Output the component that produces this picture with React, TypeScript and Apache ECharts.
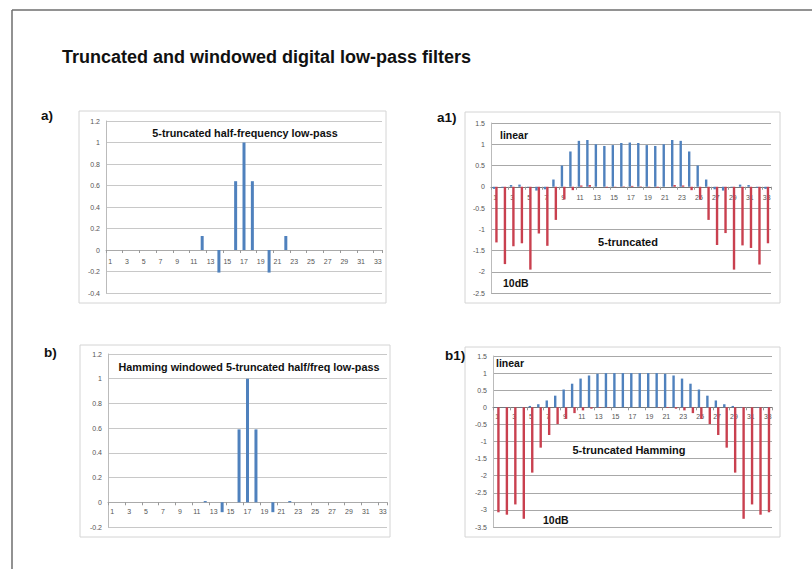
import React, { useEffect, useRef } from "react";
import * as echarts from "echarts";

const categories = ["1","2","3","4","5","6","7","8","9","10","11","12","13","14","15","16","17","18","19","20","21","22","23","24","25","26","27","28","29","30","31","32","33"];

// a) 5-truncated half-frequency low-pass (impulse response)
const aTruncated = [0,0,0,0,0,0,0,0,0,0,0,0.13,0,-0.21,0,0.64,1,0.64,0,-0.21,0,0.13,0,0,0,0,0,0,0,0,0,0,0];
// b) Hamming windowed 5-truncated half/freq low-pass
const bHamming = [0,0,0,0,0,0,0,0,0,0,0,0.01,0,-0.08,0,0.59,1,0.59,0,-0.08,0,0.01,0,0,0,0,0,0,0,0,0,0,0];
// a1) response of 5-truncated: linear and 10dB
const a1Linear = [-0.05,-0.02,0.04,0.05,-0.01,-0.09,-0.06,0.17,0.5,0.83,1.08,1.1,1.0,0.96,0.98,1.03,1.04,1.03,0.98,0.96,1.0,1.1,1.08,0.83,0.5,0.17,-0.06,-0.09,-0.01,0.05,0.04,-0.02,-0.05];
const a1Db = [-1.31,-1.82,-1.4,-1.33,-1.95,-1.1,-1.39,-0.78,-0.3,-0.08,0.03,0.04,0,-0.02,-0.01,0.01,0.02,0.01,-0.01,-0.02,0,0.04,0.03,-0.08,-0.3,-0.78,-1.37,-1.09,-1.95,-1.38,-1.44,-1.83,-1.33];
// b1) response of 5-truncated Hamming: linear and 10dB
const b1Linear = [-0.01,-0.01,0,0.01,0.04,0.09,0.2,0.34,0.52,0.69,0.84,0.93,0.98,1.0,1.0,1.0,1.0,1.0,1.0,1.0,0.98,0.93,0.84,0.69,0.52,0.34,0.2,0.09,0.04,0.01,0,-0.01,-0.01];
const b1Db = [-3.07,-3.14,-2.84,-3.26,-1.91,-1.18,-0.81,-0.49,-0.34,-0.17,-0.09,-0.04,-0.02,-0.01,0,0,0,0,0,-0.01,-0.02,-0.04,-0.09,-0.17,-0.34,-0.49,-0.81,-1.18,-1.91,-3.26,-2.84,-3.14,-3.07];

const BLUE = "#4F81BD";
const RED = "#C9404F";
const FONT = "'Liberation Sans', Arial, sans-serif";

type G = { left: number; top: number; width: number; height: number; min: number; max: number; interval: number };
const grids: G[] = [
  { left: 106, top: 121, width: 276, height: 172, min: -0.4, max: 1.2, interval: 0.2 },
  { left: 108, top: 354, width: 279, height: 173, min: -0.2, max: 1.2, interval: 0.2 },
  { left: 491, top: 123, width: 280, height: 170, min: -2.5, max: 1.5, interval: 0.5 },
  { left: 493, top: 356, width: 279, height: 171, min: -3.5, max: 1.5, interval: 0.5 },
];

function yAxisCfg(i: number, gridColor: string) {
  const g = grids[i];
  return {
    type: "value",
    gridIndex: i,
    min: g.min,
    max: g.max,
    interval: g.interval,
    axisLine: { show: true, lineStyle: { color: "#BBBBBB", width: 1 } },
    axisTick: { show: false },
    axisLabel: { fontSize: 7, color: "#555", margin: 6, fontFamily: FONT },
    splitLine: { show: true, lineStyle: { color: gridColor, width: 1 } },
  };
}

function xAxisCfg(i: number, lineColor: string, margin: number) {
  const g = grids[i];
  // distance from plot bottom to the zero line (axis crosses at 0)
  const zeroFromBottom = (g.height * (0 - g.min)) / (g.max - g.min);
  return {
    type: "category",
    gridIndex: i,
    data: categories,
    position: "bottom",
    offset: -zeroFromBottom,
    axisLine: { show: true, onZero: false, lineStyle: { color: lineColor, width: 1 } },
    axisTick: { show: true, length: 3, lineStyle: { color: "#999" } },
    axisLabel: { interval: 1, fontSize: 7, color: "#555", margin, fontFamily: FONT },
    splitLine: { show: false },
  };
}

function txt(x: number, y: number, text: string, size: number, align: string = "left") {
  return {
    type: "text",
    x,
    y,
    z: 100,
    style: {
      text,
      fontSize: size,
      fontWeight: "bold",
      fontFamily: FONT,
      fill: "#111",
      align,
      verticalAlign: "middle",
    },
  };
}

function box(x: number, y: number, w: number, h: number) {
  return {
    type: "rect",
    z: -1,
    shape: { x, y, width: w, height: h },
    style: { fill: "none", stroke: "#D4D4D4", lineWidth: 1 },
  };
}

export default function App() {
  const ref = useRef<HTMLDivElement>(null);
  useEffect(() => {
    if (!ref.current) return;
    const chart = echarts.init(ref.current, undefined, { renderer: "svg" });
    chart.setOption({
      animation: false,
      backgroundColor: "#FFFFFF",
      textStyle: { fontFamily: FONT },
      grid: grids.map((g) => ({ left: g.left, top: g.top, width: g.width, height: g.height, outerBoundsMode: "none" })),
      xAxis: [
        xAxisCfg(0, "#AAAAAA", 8),
        xAxisCfg(1, "#AAAAAA", 6),
        xAxisCfg(2, "#777777", 7),
        xAxisCfg(3, "#777777", 6),
      ],
      yAxis: [
        yAxisCfg(0, "#C8C8C8"),
        yAxisCfg(1, "#C8C8C8"),
        yAxisCfg(2, "#A8A8A8"),
        yAxisCfg(3, "#A8A8A8"),
      ],
      series: [
        { type: "bar", name: "a", xAxisIndex: 0, yAxisIndex: 0, data: aTruncated, barWidth: 3, itemStyle: { color: BLUE } },
        { type: "bar", name: "b", xAxisIndex: 1, yAxisIndex: 1, data: bHamming, barWidth: 3, itemStyle: { color: BLUE } },
        { type: "bar", name: "linear", xAxisIndex: 2, yAxisIndex: 2, data: a1Linear, barWidth: 2.4, barGap: "0%", itemStyle: { color: BLUE } },
        { type: "bar", name: "10dB", xAxisIndex: 2, yAxisIndex: 2, data: a1Db, barWidth: 2.4, barGap: "0%", itemStyle: { color: RED } },
        { type: "bar", name: "linear", xAxisIndex: 3, yAxisIndex: 3, data: b1Linear, barWidth: 2.4, barGap: "0%", itemStyle: { color: BLUE } },
        { type: "bar", name: "10dB", xAxisIndex: 3, yAxisIndex: 3, data: b1Db, barWidth: 2.4, barGap: "0%", itemStyle: { color: RED } },
      ],
      graphic: [
        { type: "line", z: 100, shape: { x1: 12, y1: 10, x2: 812, y2: 10 }, style: { stroke: "#6E6E6E", lineWidth: 1.5 } },
        { type: "line", z: 100, shape: { x1: 12, y1: 10, x2: 12, y2: 569 }, style: { stroke: "#6E6E6E", lineWidth: 1.5 } },
        box(79, 111, 307, 192),
        box(80, 345, 310, 192),
        box(465, 112, 315, 191),
        box(465, 347, 315, 190),
        txt(62, 57, "Truncated and windowed digital low-pass filters", 18),
        txt(41, 115, "a)", 13.5),
        txt(44, 352, "b)", 13.5),
        txt(437, 117, "a1)", 13.5),
        txt(445, 355, "b1)", 13.5),
        txt(245, 133, "5-truncated half-frequency low-pass", 10.8, "center"),
        txt(249, 367, "Hamming windowed 5-truncated half/freq low-pass", 10.8, "center"),
        txt(500, 135, "linear", 10.5),
        txt(628, 242, "5-truncated", 11, "center"),
        txt(503, 283, "10dB", 10.5),
        txt(496, 363, "linear", 10.5),
        txt(629, 450, "5-truncated Hamming", 11, "center"),
        txt(543, 520, "10dB", 10.5),
      ],
    });
    return () => chart.dispose();
  }, []);
  return (
    <div
      ref={ref}
      style={{ position: "fixed", left: 0, top: 0, width: 812, height: 569, background: "#fff" }}
    />
  );
}
